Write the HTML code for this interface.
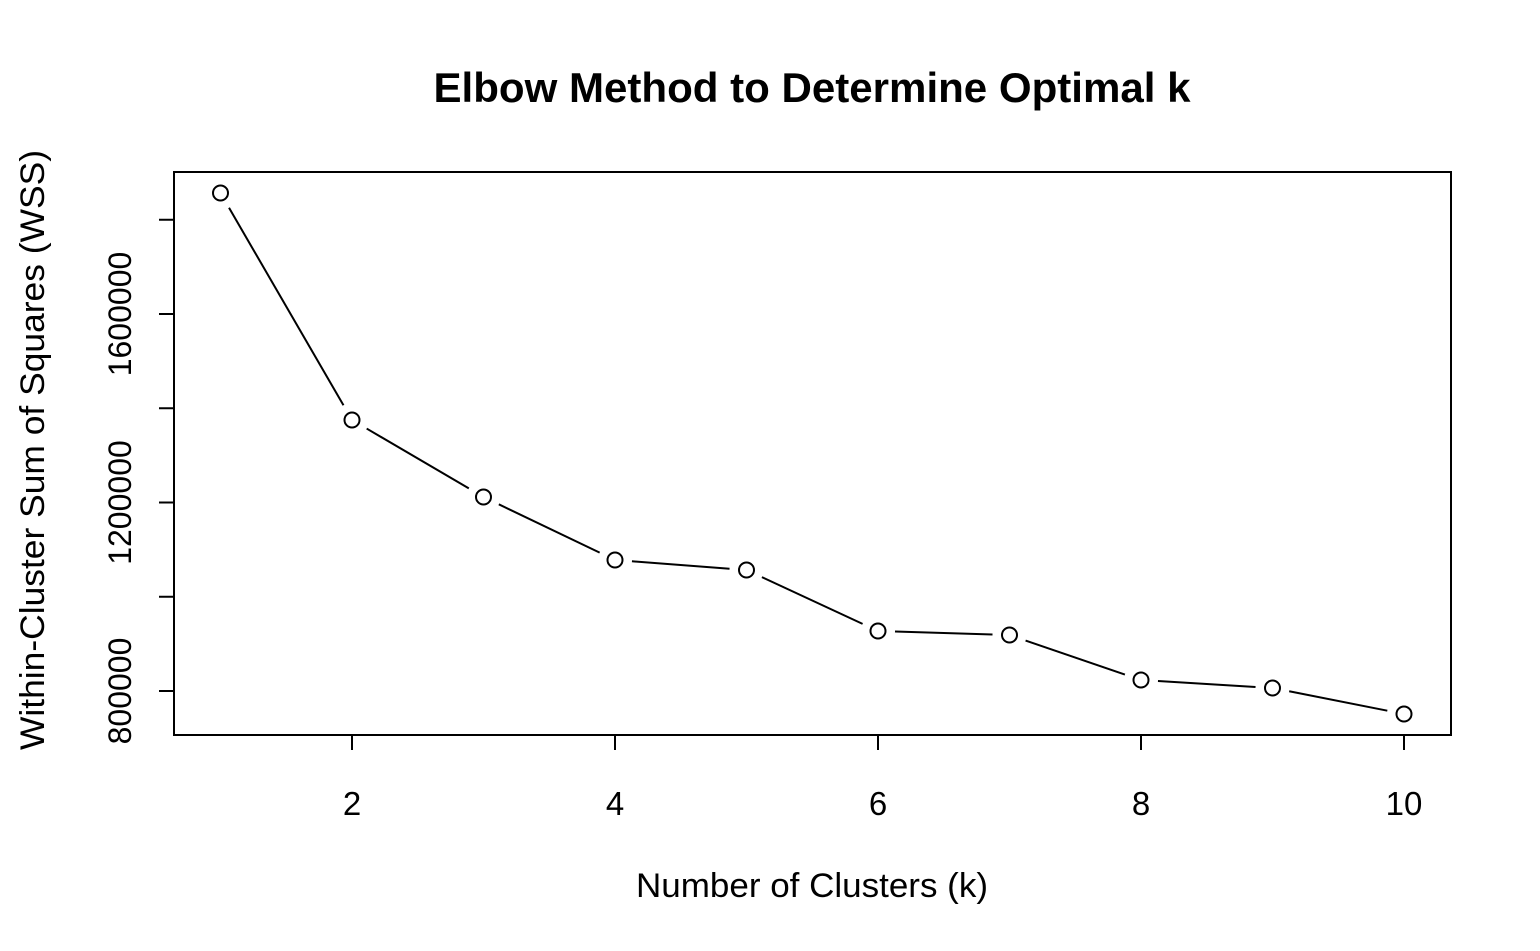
<!DOCTYPE html>
<html><head><meta charset="utf-8"><style>
html,body{margin:0;padding:0;background:#fff;}
svg{display:block;font-family:"Liberation Sans",Arial,sans-serif;}
</style></head><body>
<svg id="chart" width="1540" height="951" viewBox="0 0 1540 951" xmlns="http://www.w3.org/2000/svg">
<rect width="1540" height="951" fill="#fff"/>
<text x="812" y="102" text-anchor="middle" font-size="42" font-weight="bold" textLength="757" lengthAdjust="spacingAndGlyphs">Elbow Method to Determine Optimal k</text>
<rect x="174" y="172" width="1277" height="563" fill="none" stroke="#000" stroke-width="2"/>
<g id="xaxis"></g>
<g id="yaxis"></g>
<g id="series"></g>
<text x="812" y="897" text-anchor="middle" font-size="34" textLength="352" lengthAdjust="spacingAndGlyphs">Number of Clusters (k)</text>
<text transform="translate(44,450) rotate(-90)" text-anchor="middle" font-size="34" textLength="600" lengthAdjust="spacingAndGlyphs">Within-Cluster Sum of Squares (WSS)</text>
</svg>
<script>
const ks = [1,2,3,4,5,6,7,8,9,10];
const wss = [1856700,1375100,1211700,1078000,1056800,927300,918800,823300,806400,751200];
const xTicks = [2,4,6,8,10];
const yTicks = [800000,1000000,1200000,1400000,1600000,1800000];
const yLabels = ["800000","","1200000","","1600000",""];
const NS="http://www.w3.org/2000/svg";
function sx(k){return 220.5+(k-1)*131.5;}
function sy(v){return 691-(v-800000)*94.25/200000;}
function mk(tag,attrs,parent){const e=document.createElementNS(NS,tag);for(const a in attrs)e.setAttribute(a,attrs[a]);parent.appendChild(e);return e;}
const xa=document.getElementById('xaxis'),ya=document.getElementById('yaxis'),sr=document.getElementById('series');
xTicks.forEach(t=>{
  const l=mk('line',{x1:sx(t),x2:sx(t),y1:735,y2:750,stroke:'#000','stroke-width':2},xa);
  
  
  const tx=mk('text',{x:sx(t),y:815,'text-anchor':'middle','font-size':33},xa);
  tx.textContent=t;
  
  
});
yTicks.forEach((t,i)=>{
  const l=mk('line',{x1:159,x2:174,y1:sy(t),y2:sy(t),stroke:'#000','stroke-width':2},ya);
  
  
  if(yLabels[i]){
    const tx=mk('text',{transform:`translate(131,${sy(t)}) rotate(-90)`,'text-anchor':'middle','font-size':32},ya);
    tx.textContent=yLabels[i];
    
    
  }
});
const gap=17;
for(let i=0;i<ks.length-1;i++){
  const x1=sx(ks[i]),y1=sy(wss[i]),x2=sx(ks[i+1]),y2=sy(wss[i+1]);
  const d=Math.hypot(x2-x1,y2-y1);if(d<=2*gap)continue;
  const ux=(x2-x1)/d,uy=(y2-y1)/d;
  const l=mk('line',{x1:x1+ux*gap,y1:y1+uy*gap,x2:x2-ux*gap,y2:y2-uy*gap,stroke:'#000','stroke-width':2},sr);
  
  
}
ks.forEach((k,i)=>{
  const c=mk('circle',{cx:sx(k),cy:sy(wss[i]),r:7.5,fill:'none',stroke:'#000','stroke-width':2},sr);
  
  
});
</script>
</body></html>
